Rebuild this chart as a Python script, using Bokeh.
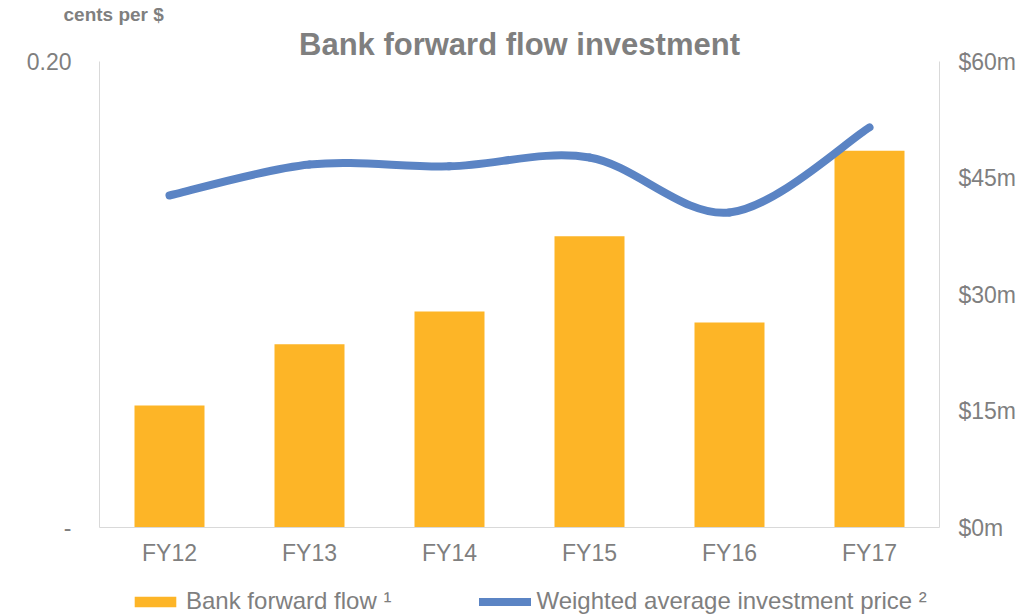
from bokeh.plotting import figure
from bokeh.layouts import column
from bokeh.models import (Range1d, LinearAxis, FixedTicker, Title, Legend, LegendItem,
                          ColumnDataSource)
from bokeh.embed import file_html
from bokeh.resources import INLINE

categories = ["FY12", "FY13", "FY14", "FY15", "FY16", "FY17"]
forward_flow_m = [15.7, 23.6, 27.8, 37.5, 26.4, 48.5]
avg_price_cents = [0.1425, 0.1558, 0.1550, 0.1588, 0.1352, 0.1717]
left_ticks = [0, 0.2]
left_tick_labels = ["-", "0.20"]
right_ticks = [0, 15, 30, 45, 60]
right_tick_labels = ["$0m", "$15m", "$30m", "$45m", "$60m"]

GREY = "#7f7f7f"
AXIS = "#d9d9d9"
ORANGE = "#fdb527"
BLUE = "#5b84c4"
FONT = "Liberation Sans"
TICK_FS = "23px"

n = len(categories)
xs = [i + 0.5 for i in range(n)]

p = figure(width=1030, height=575, output_backend="svg", toolbar_location=None,
           x_range=Range1d(0, n), y_range=Range1d(0, 0.2),
           min_border_left=99, min_border_right=91, min_border_top=61, min_border_bottom=48)
p.extra_y_ranges = {"m": Range1d(0, 60)}
p.outline_line_color = None
p.xgrid.visible = False
p.ygrid.visible = False
p.background_fill_color = "white"
p.border_fill_color = "white"

# x axis
xa = p.xaxis[0]
xa.ticker = FixedTicker(ticks=xs)
xa.major_label_overrides = {x: c for x, c in zip(xs, categories)}
xa.axis_line_color = AXIS
xa.major_tick_line_color = None
xa.minor_tick_line_color = None
xa.major_label_text_font = FONT
xa.major_label_text_font_size = TICK_FS
xa.major_label_text_color = GREY
xa.major_label_standoff = 6

# left axis
ya = p.yaxis[0]
ya.ticker = FixedTicker(ticks=left_ticks)
ya.major_label_overrides = {t: l for t, l in zip(left_ticks, left_tick_labels)}
ya.axis_line_color = AXIS
ya.major_tick_line_color = None
ya.minor_tick_line_color = None
ya.major_label_text_font = FONT
ya.major_label_text_font_size = TICK_FS
ya.major_label_text_color = GREY
ya.major_label_standoff = 22

# right axis
ra = LinearAxis(y_range_name="m", ticker=FixedTicker(ticks=right_ticks))
ra.major_label_overrides = {t: l for t, l in zip(right_ticks, right_tick_labels)}
ra.axis_line_color = AXIS
ra.major_tick_line_color = None
ra.minor_tick_line_color = None
ra.major_label_text_font = FONT
ra.major_label_text_font_size = TICK_FS
ra.major_label_text_color = GREY
ra.major_label_standoff = 13
p.add_layout(ra, "right")

# bars
p.vbar(x=xs, top=forward_flow_m, width=0.5, bottom=0, y_range_name="m",
       fill_color=ORANGE, line_color=None)

# smooth line (Catmull-Rom -> cubic bezier)
def smooth_segments(xv, yv):
    pts = list(zip(xv, yv))
    m = len(pts)
    d = dict(x0=[], y0=[], x1=[], y1=[], cx0=[], cy0=[], cx1=[], cy1=[])
    for i in range(m - 1):
        pa = pts[i - 1] if i > 0 else pts[i]
        pb = pts[i]
        pc = pts[i + 1]
        pd = pts[i + 2] if i + 2 < m else pts[i + 1]
        d["x0"].append(pb[0]); d["y0"].append(pb[1])
        d["x1"].append(pc[0]); d["y1"].append(pc[1])
        d["cx0"].append(pb[0] + (pc[0] - pa[0]) / 6); d["cy0"].append(pb[1] + (pc[1] - pa[1]) / 6)
        d["cx1"].append(pc[0] - (pd[0] - pb[0]) / 6); d["cy1"].append(pc[1] - (pd[1] - pb[1]) / 6)
    return ColumnDataSource(d)

p.bezier(x0="x0", y0="y0", x1="x1", y1="y1", cx0="cx0", cy0="cy0", cx1="cx1", cy1="cy1",
         source=smooth_segments(xs, avg_price_cents), line_color=BLUE, line_width=8,
         line_cap="round")

# titles
p.title.text = "cents per $"
p.title.align = "left"
p.title.offset = -36
p.title.text_font = FONT
p.title.text_font_size = "19px"
p.title.text_font_style = "bold"
p.title.text_color = GREY
p.title.standoff = 0
p.title.text_line_height = 1.0

main_title = Title(text="Bank forward flow investment", align="center", text_font=FONT,
                   text_font_size="31px", text_font_style="bold", text_color=GREY,
                   standoff=0, text_line_height=1.0)
p.add_layout(main_title, "above")

# legend strip (separate figure; legend samples use the same data off-range)
lg = figure(width=1030, height=40, output_backend="svg", toolbar_location=None,
            x_range=Range1d(100, 101), y_range=Range1d(100, 101),
            min_border=0, outline_line_color=None)
lg.axis.visible = False
lg.grid.visible = False
lg_bars = lg.vbar(x=xs, top=forward_flow_m, width=0.5, fill_color=ORANGE, line_color=None)
lg_line = lg.line(x=xs, y=avg_price_cents, line_color=BLUE, line_width=8, line_cap="round")

legend = Legend(items=[LegendItem(label="Bank forward flow \u00b9", renderers=[lg_bars]),
                       LegendItem(label="Weighted average investment price \u00b2", renderers=[lg_line])],
                orientation="horizontal", location=(30, 0),
                label_text_font=FONT, label_text_font_size="24px", label_text_color=GREY,
                glyph_width=52, glyph_height=13, label_standoff=5, spacing=88,
                border_line_color=None, background_fill_alpha=0, padding=0, margin=0)
lg.add_layout(legend)

layout = column(p, lg, spacing=0)
open("out.html", "w").write(file_html(layout, INLINE))
